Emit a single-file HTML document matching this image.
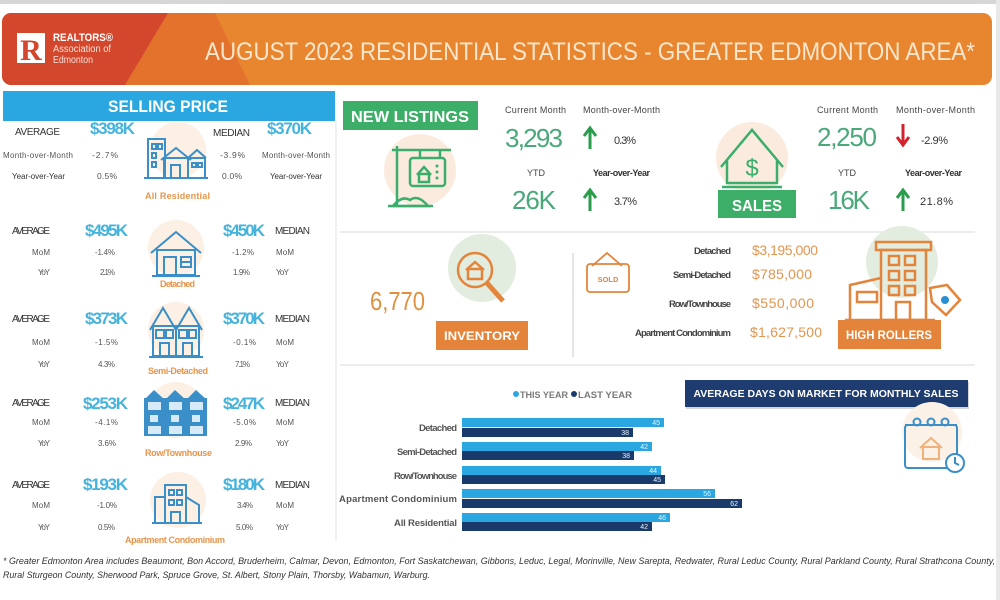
<!DOCTYPE html>
<html><head><meta charset="utf-8"><style>
html,body{margin:0;padding:0;background:#fff;}
svg{display:block;font-family:"Liberation Sans",sans-serif;}
</style></head><body>
<svg width="1000" height="600" viewBox="0 0 1000 600" xmlns="http://www.w3.org/2000/svg">
<rect width="1000" height="600" fill="#fff"/>
<rect x="0" y="0" width="1000" height="4" fill="#d6d6d6"/>
<rect x="996" y="0" width="4" height="600" fill="#e8e8e8"/>
<defs><clipPath id="bc"><rect x="2" y="13" width="990" height="72" rx="9"/></clipPath></defs>
<g clip-path="url(#bc)">
<rect x="2" y="13" width="990" height="72" fill="#e8862f"/>
<polygon points="160,13 215,13 250,85 120,85" fill="#e2722c"/>
<polygon points="2,13 168,13 125,85 2,85" fill="#d3472d"/>
</g>
<rect x="17" y="33" width="28" height="30" fill="#fff"/>
<text x="31" y="60" font-size="30" font-weight="bold" font-family="Liberation Serif,serif" fill="#d3472d" text-anchor="middle">R</text>
<text x="53" y="41" font-size="11" font-weight="bold" fill="#fff" textLength="60" lengthAdjust="spacingAndGlyphs">REALTORS®</text>
<text x="53" y="52" font-size="10" fill="#fbe0d6" textLength="58" lengthAdjust="spacingAndGlyphs">Association of</text>
<text x="53" y="63" font-size="10" fill="#fbe0d6" textLength="40" lengthAdjust="spacingAndGlyphs">Edmonton</text>
<text x="205" y="60" font-size="25" fill="#fce6cd" textLength="770" lengthAdjust="spacingAndGlyphs">AUGUST 2023 RESIDENTIAL STATISTICS - GREATER EDMONTON AREA*</text>

<!-- LEFT PANEL -->
<rect x="3" y="91" width="332" height="30" fill="#2aa7e0"/>
<text x="168" y="112" font-size="17" font-weight="bold" fill="#fff" text-anchor="middle" textLength="120" lengthAdjust="spacingAndGlyphs">SELLING PRICE</text>
<line x1="336" y1="122" x2="336" y2="540" stroke="#ececec" stroke-width="1.5"/>

<g fill="#fcefe3">
<circle cx="178" cy="150" r="28"/>
<circle cx="176" cy="248" r="28"/>
<circle cx="176" cy="330" r="28"/>
<circle cx="176" cy="410" r="28"/>
<circle cx="178" cy="500" r="28"/>
</g>

<g font-size="10" fill="#333" lengthAdjust="spacingAndGlyphs">
<!-- section 1 -->
<text x="15" y="135" textLength="45">AVERAGE</text>
<text x="213" y="136" textLength="37">MEDIAN</text>
<text x="3" y="158" font-size="8" fill="#555" textLength="70">Month-over-Month</text>
<text x="92" y="158" font-size="8.5" fill="#555" textLength="26">-2.7%</text>
<text x="220" y="158" font-size="8.5" fill="#555" textLength="25">-3.9%</text>
<text x="262" y="158" font-size="8" fill="#555" textLength="68">Month-over-Month</text>
<text x="12" y="179" font-size="8" fill="#333" textLength="53">Year-over-Year</text>
<text x="97" y="179" font-size="8.5" fill="#555" textLength="20">0.5%</text>
<text x="222" y="179" font-size="8.5" fill="#555" textLength="20">0.0%</text>
<text x="270" y="179" font-size="8" fill="#333" textLength="52">Year-over-Year</text>
<!-- section 2 -->
<text x="12" y="234" textLength="38">AVERAGE</text>
<text x="275" y="234" textLength="35">MEDIAN</text>
<text x="32" y="255" font-size="8" fill="#555" textLength="18">MoM</text>
<text x="95" y="255" font-size="8" fill="#555" textLength="20">-1.4%</text>
<text x="232" y="255" font-size="8" fill="#555" textLength="22">-1.2%</text>
<text x="276" y="255" font-size="8" fill="#555" textLength="18">MoM</text>
<text x="38" y="275" font-size="8" fill="#555" textLength="12">YoY</text>
<text x="100" y="275" font-size="8" fill="#555" textLength="15">2.1%</text>
<text x="233" y="275" font-size="8" fill="#555" textLength="17">1.9%</text>
<text x="276" y="275" font-size="8" fill="#555" textLength="13">YoY</text>
<!-- section 3 -->
<text x="12" y="322" textLength="38">AVERAGE</text>
<text x="275" y="322" textLength="35">MEDIAN</text>
<text x="32" y="345" font-size="8" fill="#555" textLength="18">MoM</text>
<text x="95" y="345" font-size="8" fill="#555" textLength="23">-1.5%</text>
<text x="233" y="345" font-size="8" fill="#555" textLength="23">-0.1%</text>
<text x="276" y="345" font-size="8" fill="#555" textLength="18">MoM</text>
<text x="38" y="367" font-size="8" fill="#555" textLength="12">YoY</text>
<text x="98" y="367" font-size="8" fill="#555" textLength="17">4.3%</text>
<text x="235" y="367" font-size="8" fill="#555" textLength="15">7.1%</text>
<text x="276" y="367" font-size="8" fill="#555" textLength="13">YoY</text>
<!-- section 4 -->
<text x="12" y="406" textLength="38">AVERAGE</text>
<text x="275" y="406" textLength="35">MEDIAN</text>
<text x="32" y="425" font-size="8" fill="#555" textLength="18">MoM</text>
<text x="95" y="425" font-size="8" fill="#555" textLength="23">-4.1%</text>
<text x="233" y="425" font-size="8" fill="#555" textLength="23">-5.0%</text>
<text x="276" y="425" font-size="8" fill="#555" textLength="18">MoM</text>
<text x="38" y="446" font-size="8" fill="#555" textLength="12">YoY</text>
<text x="98" y="446" font-size="8" fill="#555" textLength="18">3.6%</text>
<text x="235" y="446" font-size="8" fill="#555" textLength="17">2.9%</text>
<text x="276" y="446" font-size="8" fill="#555" textLength="13">YoY</text>
<!-- section 5 -->
<text x="12" y="488" textLength="38">AVERAGE</text>
<text x="275" y="488" textLength="35">MEDIAN</text>
<text x="32" y="508" font-size="8" fill="#555" textLength="18">MoM</text>
<text x="97" y="508" font-size="8" fill="#555" textLength="20">-1.0%</text>
<text x="237" y="508" font-size="8" fill="#555" textLength="16">3.4%</text>
<text x="276" y="508" font-size="8" fill="#555" textLength="18">MoM</text>
<text x="38" y="530" font-size="8" fill="#555" textLength="12">YoY</text>
<text x="98" y="530" font-size="8" fill="#555" textLength="17">0.5%</text>
<text x="236" y="530" font-size="8" fill="#555" textLength="17">5.0%</text>
<text x="276" y="530" font-size="8" fill="#555" textLength="13">YoY</text>
</g>

<g font-size="17" font-weight="bold" fill="#45b3dc" lengthAdjust="spacingAndGlyphs">
<text x="90" y="134" textLength="45">$398K</text>
<text x="267" y="134" textLength="45">$370K</text>
<text x="85" y="236" textLength="43">$495K</text>
<text x="223" y="236" textLength="42">$450K</text>
<text x="85" y="324" textLength="43">$373K</text>
<text x="223" y="324" textLength="42">$370K</text>
<text x="83" y="409" textLength="45">$253K</text>
<text x="223" y="409" textLength="42">$247K</text>
<text x="83" y="490" textLength="45">$193K</text>
<text x="223" y="490" textLength="42">$180K</text>
</g>

<g font-size="9" font-weight="bold" fill="#e8944a" lengthAdjust="spacingAndGlyphs">
<text x="145" y="199" textLength="65">All Residential</text>
<text x="160" y="287" textLength="35">Detached</text>
<text x="148" y="374" textLength="60">Semi-Detached</text>
<text x="145" y="456" textLength="67">Row/Townhouse</text>
<text x="125" y="543" textLength="100">Apartment Condominium</text>
</g>

<!-- left icons -->
<g fill="none" stroke="#3a8fc8" stroke-width="2">
<!-- icon1 -->
<rect x="148" y="139" width="17" height="39"/>
<rect x="152" y="144" width="4" height="5"/><rect x="158" y="144" width="4" height="5"/>
<rect x="152" y="153" width="4" height="5"/><rect x="152" y="162" width="4" height="5"/>
<polyline points="161,160 176,148 191,160"/>
<rect x="164" y="158" width="24" height="20"/>
<rect x="171" y="165" width="9" height="13"/>
<polyline points="188,158 197,150 206,158"/>
<rect x="188" y="158" width="17" height="20"/>
<rect x="192" y="163" width="4" height="4"/><rect x="198" y="163" width="4" height="4"/>
<line x1="144" y1="178" x2="208" y2="178"/>
<!-- icon2 -->
<polyline points="151,253 176,232 201,253"/>
<rect x="157" y="250" width="38" height="25"/>
<rect x="164" y="257" width="12" height="18"/>
<rect x="181" y="257" width="10" height="10"/>
<line x1="181" y1="262" x2="191" y2="262"/>
<line x1="152" y1="276" x2="200" y2="276"/>
<!-- icon3 -->
<polyline points="150,330 163,308 176,330 189,308 202,330"/>
<rect x="153" y="326" width="46" height="30"/>
<line x1="176" y1="326" x2="176" y2="356"/>
<rect x="156" y="330" width="8" height="8"/><rect x="166" y="330" width="7" height="8"/>
<rect x="179" y="330" width="8" height="8"/><rect x="189" y="330" width="7" height="8"/>
<rect x="160" y="343" width="9" height="13"/><rect x="183" y="343" width="9" height="13"/>
<line x1="149" y1="357" x2="203" y2="357"/>
<!-- icon5 -->
<rect x="165" y="485" width="21" height="38"/>
<rect x="155" y="497" width="10" height="26"/>
<polyline points="186,497 199,505 199,523"/>
<rect x="169" y="490" width="5" height="5"/><rect x="177" y="490" width="5" height="5"/>
<rect x="169" y="500" width="5" height="5"/><rect x="177" y="500" width="5" height="5"/>
<rect x="171" y="512" width="9" height="11"/>
<line x1="152" y1="523" x2="202" y2="523"/>
</g>
<!-- icon4 row -->
<g>
<rect x="144" y="398" width="63" height="38" fill="#3a8fc8"/>
<polygon points="144,400 154,390 165,400" fill="#3a8fc8"/>
<polygon points="165,400 175,390 186,400" fill="#3a8fc8"/>
<polygon points="186,400 196,390 207,400" fill="#3a8fc8"/>
<g fill="#d7eaf7">
<rect x="148" y="402" width="13" height="8"/><rect x="169" y="402" width="13" height="8"/><rect x="190" y="402" width="13" height="8"/>
<rect x="150" y="415" width="8" height="7"/><rect x="171" y="415" width="8" height="7"/><rect x="192" y="415" width="8" height="7"/>
<rect x="148" y="426" width="13" height="8"/><rect x="169" y="426" width="13" height="8"/><rect x="190" y="426" width="13" height="8"/>
</g>
</g>

<!-- NEW LISTINGS -->
<rect x="343" y="101" width="135" height="29" fill="#3dae68"/>
<text x="410" y="122" font-size="16" font-weight="bold" fill="#fff" text-anchor="middle" textLength="118" lengthAdjust="spacingAndGlyphs">NEW  LISTINGS</text>
<circle cx="420" cy="170" r="36" fill="#fbebdf"/>
<g fill="none" stroke="#3aae6a" stroke-width="2.5">
<line x1="397" y1="146" x2="397" y2="206"/>
<line x1="392" y1="150" x2="451" y2="150"/>
<line x1="420" y1="150" x2="420" y2="158"/>
<line x1="440" y1="150" x2="440" y2="158"/>
<rect x="410" y="158" width="35" height="28" rx="3"/>
<polyline points="417,175 424,167 431,175"/>
<rect x="419" y="174" width="10" height="8"/>
<path d="M393,206 Q402,195 410,200 Q418,194 428,206 Z"/>
<line x1="388" y1="206" x2="433" y2="206"/>
</g>
<g fill="#3aae6a"><circle cx="437" cy="166" r="1.5"/><circle cx="437" cy="172" r="1.5"/><circle cx="437" cy="178" r="1.5"/></g>

<g font-size="9" fill="#444" lengthAdjust="spacingAndGlyphs">
<text x="505" y="113" textLength="61">Current Month</text>
<text x="583" y="113" textLength="77">Month-over-Month</text>
<text x="527" y="176" textLength="18">YTD</text>
<text x="593" y="176" font-weight="bold" fill="#333" textLength="57">Year-over-Year</text>
<text x="817" y="113" textLength="61">Current Month</text>
<text x="896" y="113" textLength="79">Month-over-Month</text>
<text x="838" y="176" textLength="18">YTD</text>
<text x="905" y="176" font-weight="bold" fill="#333" textLength="57">Year-over-Year</text>
</g>
<g font-size="26" fill="#4aa87a" lengthAdjust="spacingAndGlyphs">
<text x="505" y="147" textLength="58">3,293</text>
<text x="512" y="209" textLength="44">26K</text>
<text x="817" y="146" textLength="60">2,250</text>
<text x="828" y="209" textLength="42">16K</text>
</g>
<g font-size="11" fill="#333" lengthAdjust="spacingAndGlyphs">
<text x="614" y="144" textLength="22">0.3%</text>
<text x="614" y="205" textLength="23">3.7%</text>
<text x="921" y="144" textLength="27">-2.9%</text>
<text x="920" y="205" textLength="33">21.8%</text>
</g>
<g stroke-width="3" fill="none">
<line x1="590" y1="130" x2="590" y2="149" stroke="#2a9d4c"/>
<polyline points="584,136 590,128 596,136" stroke="#2a9d4c"/>
<line x1="590" y1="192" x2="590" y2="211" stroke="#2a9d4c"/>
<polyline points="584,198 590,190 596,198" stroke="#2a9d4c"/>
<line x1="903" y1="124" x2="903" y2="143" stroke="#d2232e"/>
<polyline points="897,137 903,145 909,137" stroke="#d2232e"/>
<line x1="903" y1="192" x2="903" y2="211" stroke="#2a9d4c"/>
<polyline points="897,198 903,190 909,198" stroke="#2a9d4c"/>
</g>

<!-- SALES -->
<circle cx="752" cy="158" r="36" fill="#fbebdf"/>
<g fill="none" stroke="#3aae6a" stroke-width="2.5">
<polyline points="721,167 752,130 783,167"/>
<polyline points="727,160 727,183 777,183 777,160"/>
<line x1="722" y1="187" x2="782" y2="187"/>
</g>
<text x="752" y="176" font-size="24" fill="#3aae6a" text-anchor="middle">$</text>
<rect x="718" y="190" width="78" height="28" fill="#3dae68"/>
<text x="757" y="211" font-size="16" font-weight="bold" fill="#fff" text-anchor="middle" textLength="50" lengthAdjust="spacingAndGlyphs">SALES</text>

<line x1="340" y1="232" x2="975" y2="232" stroke="#e6e6e6" stroke-width="1.5"/>
<line x1="340" y1="365" x2="975" y2="365" stroke="#e6e6e6" stroke-width="1.5"/>

<!-- INVENTORY -->
<text x="370" y="310" font-size="26" fill="#e0913f" textLength="55" lengthAdjust="spacingAndGlyphs">6,770</text>
<circle cx="482" cy="268" r="34" fill="#e2ecdf"/>
<g fill="none" stroke="#e4843a" stroke-width="2.5">
<circle cx="475" cy="270" r="17"/>
<line x1="487" y1="283" x2="503" y2="301" stroke-width="5"/>
<polyline points="466,270 475,262 484,270"/>
<rect x="468" y="269" width="14" height="10"/>
</g>
<rect x="436" y="321" width="92" height="29" fill="#e4843a"/>
<text x="482" y="340" font-size="12" font-weight="bold" fill="#fff" text-anchor="middle" textLength="76" lengthAdjust="spacingAndGlyphs">INVENTORY</text>
<line x1="573" y1="253" x2="573" y2="357" stroke="#dedede" stroke-width="1.5"/>

<g fill="none" stroke="#e4843a" stroke-width="1.8">
<polyline points="592,266 607,253 622,266"/>
<rect x="587" y="264" width="42" height="28" rx="3"/>
</g>
<text x="608" y="282" font-size="7.5" font-weight="bold" fill="#e4843a" text-anchor="middle">SOLD</text>

<g font-size="9.5" font-weight="bold" fill="#444" text-anchor="end" lengthAdjust="spacingAndGlyphs">
<text x="731" y="254" textLength="37">Detached</text>
<text x="731" y="278" textLength="58">Semi-Detached</text>
<text x="731" y="307" textLength="62">Row/Townhouse</text>
<text x="731" y="336" textLength="96">Apartment Condominium</text>
</g>
<g font-size="14" fill="#e3954e" lengthAdjust="spacingAndGlyphs">
<text x="752" y="255" textLength="66">$3,195,000</text>
<text x="752" y="279" textLength="60">$785,000</text>
<text x="752" y="308" textLength="62">$550,000</text>
<text x="750" y="337" textLength="72">$1,627,500</text>
</g>

<!-- HIGH ROLLERS -->
<circle cx="902" cy="262" r="36" fill="#e2ecdf"/>
<g fill="none" stroke="#e4843a" stroke-width="2.5">
<rect x="876" y="242" width="55" height="8"/>
<rect x="881" y="250" width="45" height="70"/>
<rect x="889" y="256" width="10" height="9"/><rect x="905" y="256" width="10" height="9"/>
<rect x="889" y="271" width="10" height="9"/><rect x="905" y="271" width="10" height="9"/>
<rect x="889" y="286" width="10" height="9"/><rect x="905" y="286" width="10" height="9"/>
<rect x="896" y="302" width="14" height="18"/>
<polyline points="881,278 850,285 850,320"/>
<rect x="857" y="292" width="20" height="10"/>
<line x1="845" y1="320" x2="935" y2="320"/>
<polygon points="930,288 947,285 960,300 946,315 932,302"/>
</g>
<circle cx="945" cy="300" r="4" fill="#2a8fd0"/>
<rect x="838" y="320" width="103" height="29" fill="#e4843a"/>
<text x="889" y="339" font-size="12" font-weight="bold" fill="#fff" text-anchor="middle" textLength="86" lengthAdjust="spacingAndGlyphs">HIGH ROLLERS</text>

<!-- CHART -->
<circle cx="516" cy="394" r="3" fill="#2aa7e0"/>
<text x="520" y="398" font-size="9.5" font-weight="bold" fill="#7a7a7a" textLength="48" lengthAdjust="spacingAndGlyphs">THIS YEAR</text>
<circle cx="574" cy="394" r="3" fill="#1b3a6c"/>
<text x="578" y="398" font-size="9.5" font-weight="bold" fill="#7a7a7a" textLength="54" lengthAdjust="spacingAndGlyphs">LAST YEAR</text>
<rect x="686" y="382" width="283" height="27" fill="#d6d6d6"/>
<rect x="685" y="380" width="283" height="27" fill="#1e3c70"/>
<text x="826" y="397" font-size="10.5" font-weight="bold" fill="#fff" text-anchor="middle" textLength="265" lengthAdjust="spacingAndGlyphs">AVERAGE DAYS ON MARKET FOR MONTHLY SALES</text>

<circle cx="932" cy="432" r="30" fill="#fcf1e7"/>
<g fill="none" stroke="#3a8fc8" stroke-width="2">
<rect x="905" y="425" width="52" height="43" rx="3"/>
<line x1="905" y1="425" x2="957" y2="425"/>
<circle cx="917" cy="422" r="3.5"/><circle cx="931" cy="422" r="3.5"/><circle cx="945" cy="422" r="3.5"/>
<circle cx="955" cy="463" r="9" fill="#fff"/>
<polyline points="955,457 955,463 959,465"/>
</g>
<g fill="none" stroke="#f0b27a" stroke-width="2">
<polyline points="920,448 931,438 942,448"/>
<rect x="923" y="447" width="16" height="12"/>
</g>

<g font-size="9.5" font-weight="bold" fill="#555" text-anchor="end" lengthAdjust="spacingAndGlyphs">
<text x="457" y="431" textLength="38">Detached</text>
<text x="457" y="455" textLength="60">Semi-Detached</text>
<text x="457" y="479" textLength="63">Row/Townhouse</text>
<text x="457" y="502" textLength="118">Apartment Condominium</text>
<text x="457" y="526" textLength="63">All Residential</text>
</g>
<g fill="#2aa7e0">
<rect x="462" y="418" width="202" height="9"/>
<rect x="462" y="442" width="190" height="9"/>
<rect x="462" y="466" width="199" height="9"/>
<rect x="462" y="489" width="253" height="9"/>
<rect x="462" y="513" width="208" height="9"/>
</g>
<g fill="#1b3a6c">
<rect x="462" y="428" width="171" height="9"/>
<rect x="462" y="451" width="172" height="9"/>
<rect x="462" y="475" width="203" height="9"/>
<rect x="462" y="499" width="280" height="9"/>
<rect x="462" y="522" width="190" height="9"/>
</g>
<g font-size="7" fill="#e8f4fb" text-anchor="end">
<text x="660" y="425">45</text><text x="629" y="435">38</text>
<text x="648" y="449">42</text><text x="630" y="458">38</text>
<text x="657" y="473">44</text><text x="661" y="482">45</text>
<text x="711" y="496">56</text><text x="738" y="506">62</text>
<text x="666" y="520">46</text><text x="648" y="529">42</text>
</g>

<!-- footer -->
<text x="3" y="564" font-size="9" font-style="italic" fill="#333" textLength="992" lengthAdjust="spacingAndGlyphs">* Greater Edmonton Area includes Beaumont, Bon Accord, Bruderheim, Calmar, Devon, Edmonton, Fort Saskatchewan, Gibbons, Leduc, Legal, Morinville, New Sarepta, Redwater, Rural Leduc County, Rural Parkland County, Rural Strathcona County,</text>
<text x="3" y="578" font-size="9" font-style="italic" fill="#333" textLength="427" lengthAdjust="spacingAndGlyphs">Rural Sturgeon County, Sherwood Park, Spruce Grove, St. Albert, Stony Plain, Thorsby, Wabamun, Warburg.</text>
</svg>
</body></html>
